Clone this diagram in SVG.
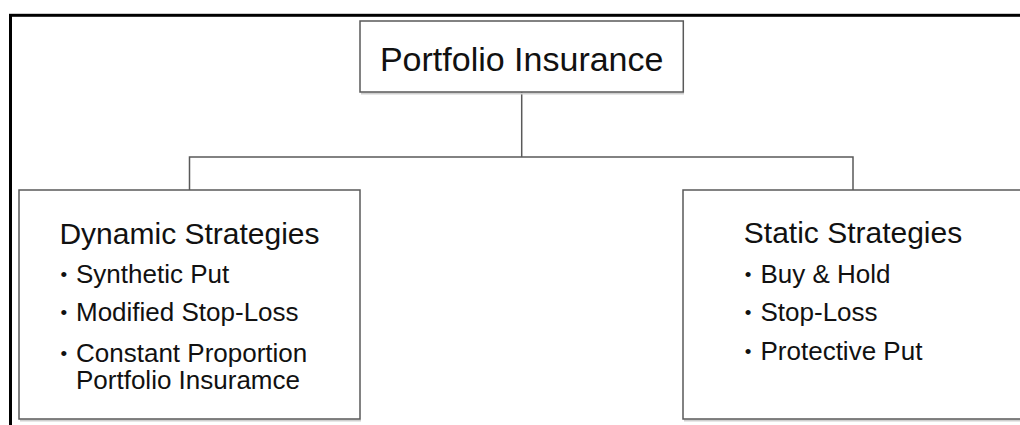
<svg xmlns="http://www.w3.org/2000/svg" width="1020" height="425" viewBox="0 0 1020 425">
  <style>
    .box { fill: #ffffff; stroke: #595959; stroke-width: 1.5; }
    .shadow { fill: none; stroke: #cfcfcf; stroke-width: 2; }
    .conn { fill: none; stroke: #595959; stroke-width: 1.5; }
    .title { font-family: "Liberation Sans", Arial, sans-serif; font-size: 34px; fill: #111111; text-anchor: middle; }
    .head { font-family: "Liberation Sans", Arial, sans-serif; font-size: 30px; fill: #111111; text-anchor: middle; }
    .item { font-family: "Liberation Sans", Arial, sans-serif; font-size: 26px; fill: #111111; }
    .dot { font-size: 19px; }
  </style>
  <rect x="0" y="0" width="1020" height="425" fill="#ffffff"/>
  <g id="frame">
    <rect x="10.5" y="15.3" width="1030" height="430" fill="none" stroke="#000000" stroke-width="3"/>
  </g>
  <g id="connectors">
    <path class="conn" d="M521.7 92 V157"/>
    <path class="conn" d="M189.5 190 V157 H853 V190"/>
  </g>
  <g id="node-root">
    <path class="shadow" d="M361 93.5 H684"/>
    <rect class="box" x="360" y="21" width="323.3" height="71"/>
    <text class="title" x="521.7" y="70.7">Portfolio Insurance</text>
  </g>
  <g id="node-dynamic">
    <path class="shadow" d="M20 420.5 H361"/>
    <rect class="box" x="19" y="190" width="341" height="229"/>
    <text class="head" x="189.5" y="244.3">Dynamic Strategies</text>
    <text class="item" y="282.7"><tspan class="dot" x="60.4" dy="-1.5">•</tspan><tspan x="76" dy="1.5">Synthetic Put</tspan></text>
    <text class="item" y="320.5"><tspan class="dot" x="60.4" dy="-1.5">•</tspan><tspan x="76" dy="1.5">Modified Stop-Loss</tspan></text>
    <text class="item" y="361.5"><tspan class="dot" x="60.4" dy="-1.5">•</tspan><tspan x="76" dy="1.5">Constant Proportion</tspan><tspan x="76" dy="27">Portfolio Insuramce</tspan></text>
  </g>
  <g id="node-static">
    <path class="shadow" d="M684 420.5 H1025"/>
    <rect class="box" x="683" y="190" width="341" height="229"/>
    <text class="head" x="853" y="243.3">Static Strategies</text>
    <text class="item" y="282.7"><tspan class="dot" x="744.7" dy="-1.5">•</tspan><tspan x="760.5" dy="1.5">Buy &amp; Hold</tspan></text>
    <text class="item" y="320.5"><tspan class="dot" x="744.7" dy="-1.5">•</tspan><tspan x="760.5" dy="1.5">Stop-Loss</tspan></text>
    <text class="item" y="359.5"><tspan class="dot" x="744.7" dy="-1.5">•</tspan><tspan x="760.5" dy="1.5">Protective Put</tspan></text>
  </g>
</svg>
